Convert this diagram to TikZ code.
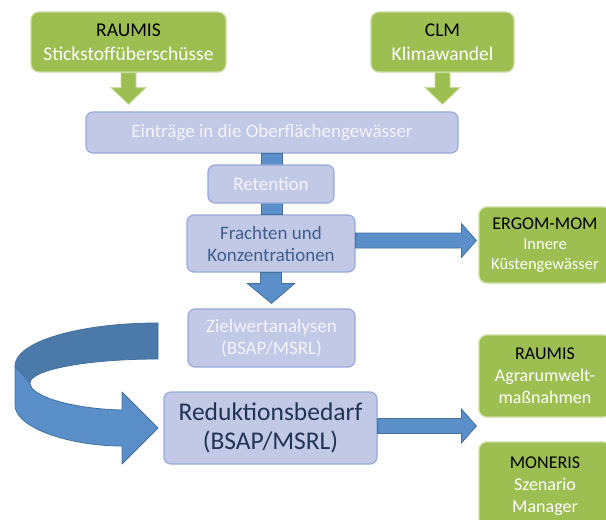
\documentclass[tikz,border=0pt]{standalone}
\usepackage{fontspec}
\setmainfont{Carlito}
\usetikzlibrary{calc}
\definecolor{boxgreen}{HTML}{9DBF52}
\definecolor{greenedge}{HTML}{C9DDA0}
\definecolor{boxblue}{HTML}{C2C9E6}
\definecolor{blueedge}{HTML}{96AAD9}
\definecolor{arrowblue}{HTML}{5B8FC9}
\definecolor{bandblue}{HTML}{4B79A9}
\definecolor{arrowedge}{HTML}{41719C}
\definecolor{paletext}{HTML}{F4F4FA}
\definecolor{midtext}{HTML}{3E5E8E}
\definecolor{darktext}{HTML}{1F3354}

\begin{document}
\begin{tikzpicture}[x=1pt,y=-1pt,
  greenbox/.style={draw=greenedge,line width=1.2pt,fill=boxgreen,rounded corners=8pt,inner sep=0pt,
    align=center,text=white,font=\fontsize{18}{22}\selectfont},
  bluebox/.style={draw=blueedge,line width=1.2pt,fill=boxblue,rounded corners=7pt,inner sep=0pt,
    align=center,text=paletext,font=\fontsize{19}{22}\selectfont},
  greenarrow/.style={fill=boxgreen,draw=greenedge,line width=.8pt},
  bluearrow/.style={fill=arrowblue,draw=arrowedge,line width=.8pt,line join=miter}]
\clip (0,0) rectangle (606,520);
\fill[white] (0,0) rectangle (606,520);

\node[greenbox,minimum width=195,minimum height=60,font=\fontsize{19.5}{24}\selectfont] (raumis) at (128.5,42)
  {\textcolor{black}{RAUMIS}\\Stickstoffüberschüsse};
\node[greenbox,minimum width=143,minimum height=60,font=\fontsize{19.5}{24}\selectfont] (clm) at (442.5,42)
  {\textcolor{black}{CLM}\\Klimawandel};
\node[bluebox,minimum width=372,minimum height=41] (eintraege) at (272,132.5)
  {Einträge in die Oberflächengewässer};
\node[bluebox,minimum width=168,minimum height=57,text=midtext] (frachten) at (271,243.5)
  {Frachten und\\Konzentrationen};
\draw[bluearrow] ([xshift=-11]eintraege.south) rectangle ([xshift=11]frachten.north);
\node[bluebox,minimum width=126,minimum height=38] (retention) at (271,184) {Retention};
\node[bluebox,minimum width=167,minimum height=58] (zielwert) at (271.5,338)
  {Zielwertanalysen\\(BSAP/MSRL)};
\node[bluebox,minimum width=213,minimum height=72,text=darktext,font=\fontsize{25.5}{29}\selectfont]
  (reduktion) at (270.5,428) {Reduktionsbedarf\\(BSAP/MSRL)};

\node[greenbox,minimum width=132,minimum height=76,font=\fontsize{16.5}{20}\selectfont] (ergom) at (545,245)
  {\textcolor{black}{\fontsize{18}{20}\selectfont ERGOM-MOM}\\Innere\\Küstengewässer};
\node[greenbox,minimum width=132,minimum height=82] (raumisb) at (545,376)
  {\textcolor{black}{RAUMIS}\\Agrarumwelt-\\maßnahmen};
\node[greenbox,minimum width=132,minimum height=88] (moneris) at (545,486)
  {\textcolor{black}{MONERIS}\\Szenario\\Manager};

% inputs
\foreach \src in {raumis,clm}
  \draw[greenarrow] ($(\src.south)+(-7.5,0)$) -- ++(0,15) -- ++(-10,0)
    -- ($(eintraege.north -| \src.south)+(0,-7)$) -- ($(\src.south)+(17.5,15)$)
    -- ++(-10,0) -- ($(\src.south)+(7.5,0)$) -- cycle;

\draw[bluearrow] ($(frachten.south)+(-10.5,0)$) -- ++(0,11) -- ++(-13,0)
  -- ($(zielwert.north)+(0,-5)$) -- ($(frachten.south)+(23.5,11)$)
  -- ++(-13,0) -- ($(frachten.south)+(10.5,0)$) -- cycle;

% outputs
\foreach \src/\dy in {frachten/-3,reduktion/-2}
  \draw[bluearrow] ($(\src.east)+(0,\dy-7.5)$) -- ($(ergom.west |- \src.east)+(-17,\dy-7.5)$)
    -- ++(0,-9.5) -- ($(ergom.west |- \src.east)+(-2,\dy)$) -- ++(-15,17)
    -- ++(0,-9.5) -- ($(\src.east)+(0,\dy+7.5)$) -- cycle;

% feedback loop
\draw[fill=bandblue,draw=arrowedge,line width=.8pt,line join=round]
  (158,323) .. controls (79,323) and (15,341.8) .. (15,366) -- (30,383)
  .. controls (30,369.7) and (87.3,359) .. (158,359) -- cycle;
\draw[fill=arrowblue,draw=arrowedge,line width=.8pt,line join=round]
  (15,366) -- (15,405) .. controls (15,428) and (70,446) .. (122,446)
  -- (122,464) -- (158,428) -- (122,392) -- (122,410)
  .. controls (75,409) and (30,397) .. (30,383) -- cycle;
\end{tikzpicture}
\end{document}
